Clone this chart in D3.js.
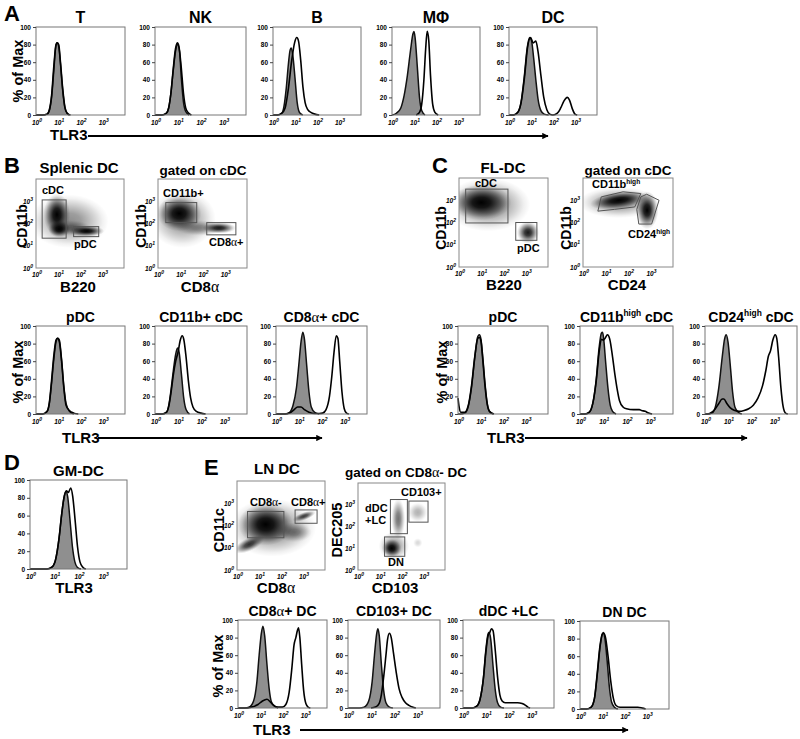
<!DOCTYPE html>
<html><head><meta charset="utf-8">
<script src="https://cdn.jsdelivr.net/npm/d3@7"></script>
<style>
body{margin:0;background:#fff}
text{font-family:"Liberation Sans",Arial,sans-serif;font-weight:bold;fill:#000}
</style>
</head><body><script>
// ================= DATA =================
// histogram curves: [log10 TLR3 intensity, % of Max]
const histYTicks = [0, 20, 40, 60, 80, 100];
const decadeTicks = [1, 10, 100, 1000];
const decadeExp = ["0", "1", "2", "3"];

// Panel A
const A_titles = ["T", "NK", "B", "MΦ", "DC"];
const A_T_iso = [[0,0],[0.3,0],[0.5,1],[0.6,5],[0.7,20],[0.8,50],[0.88,76],[0.95,82],[1.02,78],[1.1,58],[1.2,28],[1.3,8],[1.4,2],[1.5,0]];
const A_T_tlr3 = [[0,0],[0.3,0],[0.5,1],[0.6,6],[0.7,22],[0.8,55],[0.9,80],[0.95,82],[1.02,80],[1.1,60],[1.2,30],[1.3,9],[1.4,2],[1.55,0]];
const A_NK_iso = [[0,0],[0.3,0],[0.5,2],[0.6,8],[0.7,25],[0.8,50],[0.9,72],[1.0,80],[1.08,72],[1.15,45],[1.25,15],[1.35,4],[1.5,0]];
const A_NK_tlr3 = [[0,0],[0.3,0],[0.5,2],[0.6,8],[0.7,25],[0.8,52],[0.9,75],[0.98,82],[1.05,78],[1.15,55],[1.25,25],[1.35,8],[1.45,3],[1.6,0]];
const A_B_iso = [[0,0],[0.2,0],[0.4,2],[0.5,10],[0.6,30],[0.7,58],[0.78,74],[0.83,76],[0.9,68],[1.0,42],[1.1,14],[1.2,3],[1.35,0]];
const A_B_tlr3 = [[0,0],[0.2,0],[0.4,2],[0.55,8],[0.7,30],[0.85,62],[0.98,82],[1.08,88],[1.16,84],[1.26,62],[1.36,32],[1.46,14],[1.58,6],[1.72,3],[1.9,1],[2.1,0]];
const A_M_iso = [[0,0],[0.2,2],[0.4,8],[0.55,22],[0.7,45],[0.85,75],[0.95,92],[1.0,95],[1.05,88],[1.15,55],[1.25,20],[1.35,5],[1.5,0]];
const A_M_tlr3 = [[1.1,0],[1.25,3],[1.35,12],[1.45,40],[1.53,75],[1.6,95],[1.67,85],[1.75,45],[1.85,12],[1.95,3],[2.1,0]];
const A_DC_iso = [[0,0],[0.2,0],[0.4,3],[0.55,15],[0.7,45],[0.82,75],[0.94,88],[1.02,85],[1.12,65],[1.22,40],[1.32,18],[1.45,5],[1.6,1],[1.8,0]];
const A_DC_tlr3 = [[0,0],[0.2,0],[0.4,3],[0.55,14],[0.7,42],[0.85,78],[0.98,88],[1.1,82],[1.22,84],[1.32,72],[1.45,45],[1.58,20],[1.72,6],[1.85,1],[2.0,0],[2.2,2],[2.35,8],[2.5,16],[2.65,20],[2.75,17],[2.88,7],[3.0,1],[3.1,0]];

// Panel B histograms
const B_titles = ["pDC", "CD11b+ cDC", "CD8α+ cDC"];
const B_pDC_iso = [[0,0],[0.3,0],[0.5,3],[0.6,12],[0.7,35],[0.8,62],[0.9,82],[0.98,86],[1.05,84],[1.15,62],[1.25,32],[1.35,12],[1.5,3],[1.7,0]];
const B_pDC_tlr3 = [[0,0],[0.3,0],[0.5,3],[0.6,13],[0.7,38],[0.8,66],[0.9,84],[0.97,86],[1.05,82],[1.15,60],[1.25,30],[1.35,10],[1.5,4],[1.7,1],[1.9,0]];
const B_11b_iso = [[0,0],[0.3,0],[0.5,2],[0.6,10],[0.7,28],[0.8,50],[0.9,68],[0.98,75],[1.05,70],[1.15,45],[1.25,18],[1.35,5],[1.5,0]];
const B_11b_tlr3 = [[0,0],[0.3,0],[0.5,2],[0.6,9],[0.7,25],[0.8,45],[0.9,60],[1.0,70],[1.1,84],[1.18,89],[1.25,85],[1.35,65],[1.45,38],[1.55,18],[1.65,8],[1.8,3],[2.0,1],[2.2,0]];
const B_8a_iso = [[0,0],[0.4,0],[0.6,2],[0.75,10],[0.9,30],[1.0,55],[1.1,82],[1.18,93],[1.25,85],[1.35,55],[1.45,25],[1.55,8],[1.7,2],[1.9,0]];
const B_8a_tlr3 = [[0,0],[0.4,0],[0.6,1],[0.8,5],[0.95,8],[1.1,8],[1.25,5],[1.45,2],[1.7,0.5],[1.9,0.5],[2.05,1],[2.2,5],[2.35,20],[2.45,42],[2.55,70],[2.65,89],[2.72,86],[2.8,60],[2.9,25],[3.0,6],[3.1,1],[3.2,0]];

// Panel C histograms
const C_titles = ["pDC", "CD11b|high| cDC", "CD24|high| cDC"];
const C_pDC_iso = [[0,0],[0.1,0],[0.3,1],[0.45,8],[0.6,30],[0.75,65],[0.88,88],[0.95,90],[1.02,85],[1.1,65],[1.2,35],[1.3,12],[1.4,3],[1.55,0]];
const C_pDC_tlr3 = [[0,18],[0.05,8],[0.12,2],[0.3,2],[0.45,9],[0.6,32],[0.75,66],[0.88,86],[0.95,87],[1.02,83],[1.1,62],[1.2,32],[1.3,11],[1.4,3],[1.6,0]];
const C_11b_iso = [[0,0],[0.2,0],[0.4,2],[0.55,12],[0.7,40],[0.82,75],[0.92,92],[0.97,93],[1.02,85],[1.1,60],[1.2,30],[1.3,10],[1.4,3],[1.55,0]];
const C_11b_tlr3 = [[0,0],[0.2,0],[0.4,2],[0.55,12],[0.7,38],[0.82,70],[0.92,85],[1.0,84],[1.08,86],[1.18,90],[1.28,85],[1.4,65],[1.5,45],[1.6,28],[1.7,15],[1.85,8],[2.0,6],[2.3,5],[2.55,5],[2.65,4],[2.8,3],[2.95,1],[3.1,0]];
const C_24_iso = [[0,0],[0.1,0],[0.3,1],[0.45,8],[0.6,30],[0.75,65],[0.85,85],[0.92,90],[1.0,82],[1.1,55],[1.2,25],[1.3,8],[1.45,2],[1.6,0]];
const C_24_tlr3 = [[0,0],[0.1,0],[0.3,2],[0.45,6],[0.6,12],[0.75,17],[0.82,17],[0.95,12],[1.1,7],[1.3,4],[1.5,3],[1.7,4],[1.9,6],[2.1,10],[2.3,18],[2.5,32],[2.65,50],[2.75,65],[2.85,72],[2.95,84],[3.05,90],[3.12,86],[3.2,65],[3.3,30],[3.4,8],[3.5,1],[3.6,0]];

// Panel D
const D_iso = [[0,0],[0.7,0],[0.9,2],[1.05,10],[1.2,35],[1.3,60],[1.4,80],[1.48,87],[1.55,82],[1.65,55],[1.75,25],[1.85,8],[1.95,2],[2.1,0]];
const D_tlr3 = [[0,0],[0.7,0],[0.9,2],[1.05,10],[1.2,35],[1.3,60],[1.4,80],[1.5,88],[1.58,86],[1.68,91],[1.76,82],[1.86,55],[1.96,25],[2.06,8],[2.18,2],[2.3,0]];

// Panel E histograms
const E_titles = ["CD8α+ DC", "CD103+ DC", "dDC +LC", "DN DC"];
const E_8a_iso = [[0,0],[0.3,0],[0.5,1],[0.7,8],[0.85,30],[0.95,60],[1.05,85],[1.12,93],[1.2,82],[1.3,50],[1.4,22],[1.5,7],[1.65,2],[1.8,0]];
const E_8a_tlr3 = [[0,0],[0.3,0],[0.6,1],[0.9,4],[1.1,8],[1.3,10],[1.45,7],[1.6,3],[1.8,1],[2.0,1],[2.15,4],[2.3,18],[2.42,45],[2.52,72],[2.6,80],[2.67,88],[2.72,91],[2.78,80],[2.86,50],[2.95,20],[3.05,5],[3.15,1],[3.25,0]];
const E_103_iso = [[0,0],[0.5,0],[0.7,1],[0.9,8],[1.05,30],[1.15,60],[1.25,85],[1.3,90],[1.36,82],[1.45,50],[1.55,20],[1.65,6],[1.8,1],[1.95,0]];
const E_103_tlr3 = [[1.0,0],[1.2,1],[1.35,5],[1.45,15],[1.55,35],[1.65,60],[1.72,78],[1.8,85],[1.88,80],[1.98,62],[2.1,40],[2.22,22],[2.35,12],[2.5,6],[2.65,3],[2.8,1],[2.95,0]];
const E_dDC_iso = [[0,0],[0.4,0],[0.6,2],[0.75,10],[0.9,35],[1.0,65],[1.1,84],[1.15,86],[1.22,78],[1.32,48],[1.42,20],[1.52,6],[1.65,1],[1.8,0]];
const E_dDC_tlr3 = [[0,0],[0.4,0],[0.6,2],[0.75,10],[0.9,34],[1.0,62],[1.1,82],[1.18,86],[1.25,90],[1.32,88],[1.42,65],[1.52,35],[1.62,15],[1.72,8],[1.85,6],[2.1,6],[2.4,6],[2.6,5],[2.75,3],[2.85,1],[2.95,0]];
const E_DN_iso = [[0,0],[0.3,0],[0.5,2],[0.65,12],[0.78,40],[0.9,70],[1.0,85],[1.06,87],[1.12,80],[1.22,55],[1.32,25],[1.42,8],[1.55,2],[1.7,0]];
const E_DN_tlr3 = [[0,0],[0.3,0],[0.5,2],[0.65,12],[0.78,42],[0.9,72],[1.0,85],[1.06,86],[1.14,82],[1.26,60],[1.38,32],[1.5,12],[1.62,4],[1.8,2],[2.2,2],[2.6,2],[2.8,1],[2.95,0]];

// Dot-plot density clusters: [log x, log y, spread x (decades), spread y (decades), tilt deg, density]
const B_spl_clusters = [[1.5,2.1,1.8,1.2,0,0.45],[1.6,1.8,0.9,0.35,0,0.45],[0.95,2.4,0.6,0.95,0,1],[1.05,1.75,0.5,0.38,0,1],[2.3,1.66,0.8,0.25,0,1]];
const B_gcdc_clusters = [[1.1,2.2,1.5,1.3,0,0.45],[1.9,1.8,1.1,0.35,0,0.4],[0.95,2.45,1.0,0.8,0,1],[2.75,1.8,0.75,0.25,0,0.9]];
const C_fl_clusters = [[1.3,2.8,1.9,1.2,0,0.5],[1.0,2.9,1.35,0.8,0,1],[3.1,1.55,0.5,0.5,0,0.9]];
const C_gcdc_clusters = [[1.6,2.9,1.8,0.7,0,0.45],[1.6,3.0,1.3,0.38,-8,1],[2.85,2.55,0.5,0.85,0,1]];
const E_ln_clusters = [[1.6,1.9,2.0,1.3,0,0.5],[1.3,2.05,1.25,0.95,0,1],[0.55,1.15,0.75,0.3,-25,0.8],[2.6,1.7,0.8,0.45,0,0.45],[3.05,2.42,0.55,0.18,-20,0.75]];
const E_g8_clusters = [[1.65,1.1,0.7,0.65,0,0.45],[1.55,1.0,0.45,0.42,0,1],[1.85,2.35,0.32,0.95,0,0.55],[2.75,2.65,0.45,0.45,0,0.3],[2.75,1.25,0.22,0.22,0,0.15]];

// Gates: rectangles [x0, x1, y0, y1] and polygons, in log10 decades
const B_spl_gates = [[0.28,1.37,1.34,3.06],[1.71,2.85,1.41,1.86]];
const B_gcdc_gates = [[0.35,1.74,2.04,2.94],[2.19,3.5,1.49,2.04]];
const C_fl_gates = [[0.3,2.2,1.98,3.5],[2.55,3.5,1.2,2.0]];
const C_gcdc_polys = [
  [[0.66,2.51],[0.81,3.15],[1.78,3.38],[2.57,3.3],[2.3,2.7],[1.4,2.59]],
  [[2.57,3.15],[2.83,3.27],[3.38,3.0],[3.05,1.93],[2.48,1.93],[2.39,2.59]]
];
const E_ln_gates = [[0.48,2.13,1.45,2.63],[2.64,3.64,2.1,2.7]];
const E_g8_gates = [[1.49,2.27,1.67,3.24],[2.34,3.22,2.2,3.17],[1.22,2.15,0.63,1.52]];

// ================= DRAWING =================
const W = 800, H = 739;
const svg = d3.select("body").append("svg").attr("width", W).attr("height", H);
const defs = svg.append("defs");
const grad = defs.append("radialGradient").attr("id", "blob");
[[0,1],[0.3,0.85],[0.6,0.45],[0.85,0.12],[1,0]].forEach(s =>
  grad.append("stop").attr("offset", s[0]).attr("stop-color", "#000").attr("stop-opacity", s[1]));
defs.append("marker").attr("id", "arr").attr("viewBox", "0 0 10 10").attr("refX", 9).attr("refY", 5)
  .attr("markerWidth", 5).attr("markerHeight", 3.2).attr("orient", "auto").attr("markerUnits", "strokeWidth")
  .append("path").attr("d", "M0,0L10,5L0,10Z").attr("fill", "#000");

let clipId = 0;
function clip(f) {
  const id = "c" + (clipId++);
  defs.append("clipPath").attr("id", id).append("rect").attr("x", f[0]).attr("y", f[1]).attr("width", f[2]).attr("height", f[3]);
  return "url(#" + id + ")";
}

function richText(sel, str, baseSize) {
  // "|...|" = superscript, "α" rendered in serif
  const parts = str.split("|");
  let pendingDy = 0;
  parts.forEach((p, i) => {
    if (!p) return;
    if (i % 2 === 1) {
      sel.append("tspan").attr("dy", pendingDy - baseSize * 0.4).attr("font-size", baseSize * 0.6).text(p);
      pendingDy = baseSize * 0.4;
    } else {
      const segs = p.split(/(α)/);
      segs.forEach(s => {
        if (!s) return;
        const t = sel.append("tspan").text(s);
        if (pendingDy) { t.attr("dy", pendingDy); pendingDy = 0; }
        if (s === "α") t.style("font-family", "'Liberation Serif','DejaVu Serif',serif").style("font-weight", "normal").attr("font-size", baseSize * 1.05);
      });
    }
  });
  return sel;
}

function txt(x, y, s, size, anchor) {
  const t = svg.append("text").attr("x", x).attr("y", y).attr("font-size", size).attr("text-anchor", anchor || "start");
  richText(t, s, size);
  return t;
}
function vtxt(x, y, s, size) {
  const t = svg.append("text").attr("transform", `translate(${x},${y}) rotate(-90)`).attr("font-size", size).attr("text-anchor", "middle");
  richText(t, s, size);
  return t;
}
function powLabel(g, x, y, exp, anchor) {
  const t = g.append("text").attr("x", x).attr("y", y).attr("font-size", 6.5).attr("text-anchor", anchor).style("font-style", "italic");
  t.append("tspan").text("10");
  t.append("tspan").attr("dy", -3).attr("font-size", 5).text(exp);
}

function xLogAxis(g, x, yb) {
  decadeTicks.forEach((v, i) => powLabel(g, x(v) + 1, yb, decadeExp[i], "middle"));
}

function hist(f, iso, tlr3, title, tsize) {
  const g = svg.append("g");
  const x = d3.scaleLog().domain([1, 1e4]).range([f[0], f[0] + f[2]]);
  const y = d3.scaleLinear().domain([0, 100]).range([f[1] + f[3], f[1]]);
  const area = d3.area().x(d => x(Math.pow(10, d[0]))).y0(y(0)).y1(d => y(d[1])).curve(d3.curveMonotoneX);
  const line = d3.line().x(d => x(Math.pow(10, d[0]))).y(d => y(d[1])).curve(d3.curveMonotoneX);
  const cg = g.append("g").attr("clip-path", clip([f[0] - 1, f[1] - 2, f[2] + 2, f[3] + 3]));
  cg.append("path").datum(iso).attr("d", area).attr("fill", "#8f8f8f");
  cg.append("path").datum(iso).attr("d", line).attr("fill", "none").attr("stroke", "#111").attr("stroke-width", 1.5);
  cg.append("path").datum(tlr3).attr("d", line).attr("fill", "none").attr("stroke", "#000").attr("stroke-width", 1.6);
  g.append("rect").attr("x", f[0]).attr("y", f[1]).attr("width", f[2]).attr("height", f[3])
    .attr("fill", "none").attr("stroke", "#777").attr("stroke-width", 1);
  const ya = g.append("g").attr("transform", `translate(${f[0]},0)`)
    .call(d3.axisLeft(y).tickValues(histYTicks).tickSize(3).tickPadding(2));
  ya.select(".domain").remove();
  ya.selectAll("line").attr("stroke", "#444");
  ya.selectAll("text").attr("font-size", 6.5).style("font-family", "'Liberation Sans',Arial,sans-serif").style("font-weight", "bold");
  xLogAxis(g, x, f[1] + f[3] + 10);
  if (title) txt(f[0] + f[2] / 2, f[1] - 4, title, tsize || 15, "middle");
}

function dot(f, clusters, rects, polys) {
  const g = svg.append("g");
  const x = d3.scaleLog().domain([1, 1e4]).range([f[0], f[0] + f[2]]);
  const y = d3.scaleLog().domain([1, 1e4]).range([f[1] + f[3], f[1]]);
  const px = f[2] / 4, py = f[3] / 4;
  const cg = g.append("g").attr("clip-path", clip(f));
  cg.selectAll("ellipse").data(clusters).join("ellipse")
    .attr("cx", d => x(Math.pow(10, d[0]))).attr("cy", d => y(Math.pow(10, d[1])))
    .attr("rx", d => d[2] * px).attr("ry", d => d[3] * py)
    .attr("transform", d => `rotate(${d[4]},${x(Math.pow(10, d[0]))},${y(Math.pow(10, d[1]))})`)
    .attr("fill", "url(#blob)").attr("opacity", d => d[5]);
  (rects || []).forEach(r => {
    g.append("rect").attr("x", x(Math.pow(10, r[0]))).attr("y", y(Math.pow(10, r[3])))
      .attr("width", x(Math.pow(10, r[1])) - x(Math.pow(10, r[0])))
      .attr("height", y(Math.pow(10, r[2])) - y(Math.pow(10, r[3])))
      .attr("fill", "none").attr("stroke", "#555").attr("stroke-width", 1);
  });
  (polys || []).forEach(p => {
    g.append("path").attr("d", d3.line().x(d => x(Math.pow(10, d[0]))).y(d => y(Math.pow(10, d[1]))).curve(d3.curveLinearClosed)(p))
      .attr("fill", "none").attr("stroke", "#555").attr("stroke-width", 1);
  });
  g.append("rect").attr("x", f[0]).attr("y", f[1]).attr("width", f[2]).attr("height", f[3])
    .attr("fill", "none").attr("stroke", "#888").attr("stroke-width", 1);
  decadeTicks.forEach((v, i) => powLabel(g, f[0] - 3, y(v) + 2.5, decadeExp[i], "end"));
  xLogAxis(g, x, f[1] + f[3] + 9);
}

function arrow(x1, x2, yy) {
  svg.append("line").attr("x1", x1).attr("x2", x2).attr("y1", yy).attr("y2", yy)
    .attr("stroke", "#000").attr("stroke-width", 2).attr("marker-end", "url(#arr)");
}

// ---- Panel A ----
txt(4, 21, "A", 22);
const A_frames = [[36,27,89,88],[155,27,91,88],[273,27,88,88],[392,27,88,88],[509,27,88,88]];
const A_data = [[A_T_iso,A_T_tlr3],[A_NK_iso,A_NK_tlr3],[A_B_iso,A_B_tlr3],[A_M_iso,A_M_tlr3],[A_DC_iso,A_DC_tlr3]];
A_frames.forEach((f, i) => hist(f, A_data[i][0], A_data[i][1], A_titles[i], 16));
vtxt(23, 71, "% of Max", 14.5);
txt(50, 140, "TLR3", 15);
arrow(88, 548, 136);

// ---- Panel B ----
txt(4, 173, "B", 22);
txt(79, 173, "Splenic DC", 15, "middle");
txt(203, 175, "gated on cDC", 13.5, "middle");
dot([36,179,88,89], B_spl_clusters, B_spl_gates);
dot([158,179,89,89], B_gcdc_clusters, B_gcdc_gates);
txt(42, 194, "cDC", 11);
txt(74, 248, "pDC", 11);
txt(163, 197, "CD11b+", 11);
txt(209, 246, "CD8α+", 11);
vtxt(27, 226, "CD11b", 14);
vtxt(146, 226, "CD11b", 14);
txt(78, 292, "B220", 15, "middle");
txt(200, 292, "CD8α", 15, "middle");
const B_frames = [[36,326,89,88],[155,326,92,88],[276,326,91,88]];
const B_data = [[B_pDC_iso,B_pDC_tlr3],[B_11b_iso,B_11b_tlr3],[B_8a_iso,B_8a_tlr3]];
B_frames.forEach((f, i) => hist(f, B_data[i][0], B_data[i][1], B_titles[i], 14));
vtxt(23, 372, "% of Max", 14.5);
txt(62, 443, "TLR3", 15);
arrow(98, 322, 438);

// ---- Panel C ----
txt(432, 173, "C", 22);
txt(503, 173, "FL-DC", 15, "middle");
txt(628, 175, "gated on cDC", 13.5, "middle");
dot([459,178,89,89], C_fl_clusters, C_fl_gates);
dot([583,178,90,89], C_gcdc_clusters, [], C_gcdc_polys);
txt(475, 187, "cDC", 11);
txt(517, 252, "pDC", 11);
txt(592, 188, "CD11b|high|", 11);
txt(628, 238, "CD24|high|", 11);
vtxt(446, 228, "CD11b", 14);
vtxt(571, 228, "CD11b", 14);
txt(504, 290, "B220", 15, "middle");
txt(627, 290, "CD24", 15, "middle");
const C_frames = [[458,326,90,88],[580,326,93,88],[705,326,92,88]];
const C_data = [[C_pDC_iso,C_pDC_tlr3],[C_11b_iso,C_11b_tlr3],[C_24_iso,C_24_tlr3]];
C_frames.forEach((f, i) => hist(f, C_data[i][0], C_data[i][1], C_titles[i], 14));
vtxt(447, 372, "% of Max", 14.5);
txt(487, 443, "TLR3", 15);
arrow(525, 747, 438);

// ---- Panel D ----
txt(4, 470, "D", 22);
hist([30,480,97,89], D_iso, D_tlr3, "GM-DC", 15);
txt(74, 593, "TLR3", 15, "middle");

// ---- Panel E ----
txt(204, 475, "E", 22);
txt(277, 474, "LN DC", 15, "middle");
txt(406, 477, "gated on CD8α- DC", 13.5, "middle");
dot([237,481,88,89], E_ln_clusters, E_ln_gates);
dot([358,483,87,87], E_g8_clusters, E_g8_gates);
txt(250, 506, "CD8α-", 11);
txt(291, 506, "CD8α+", 11);
txt(365, 512, "dDC", 11);
txt(365, 524, "+LC", 11);
txt(401, 496, "CD103+", 11);
txt(388, 566, "DN", 11);
vtxt(224, 530, "CD11c", 14.5);
vtxt(342, 530, "DEC205", 14.5);
txt(276, 593, "CD8α", 15, "middle");
txt(395, 593, "CD103", 15, "middle");
const E_frames = [[238,620,89,88],[348,620,92,88],[463,620,91,88],[580,621,89,88]];
const E_data = [[E_8a_iso,E_8a_tlr3],[E_103_iso,E_103_tlr3],[E_dDC_iso,E_dDC_tlr3],[E_DN_iso,E_DN_tlr3]];
E_frames.forEach((f, i) => hist(f, E_data[i][0], E_data[i][1], E_titles[i], 14));
vtxt(223, 666, "% of Max", 14.5);
txt(253, 735, "TLR3", 15);
arrow(300, 628, 730);
</script></body></html>
